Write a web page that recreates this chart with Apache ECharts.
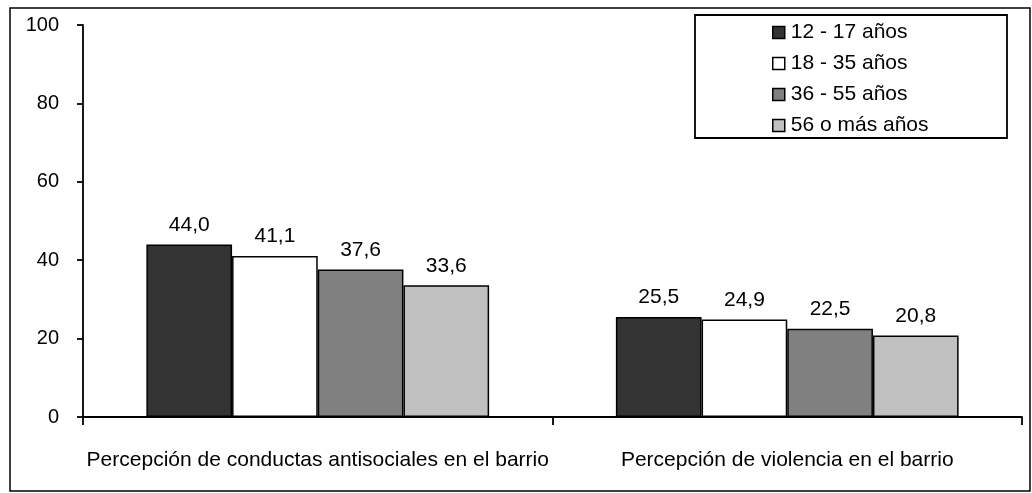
<!DOCTYPE html>
<html><head><meta charset="utf-8">
<script src="https://cdn.jsdelivr.net/npm/echarts@6/dist/echarts.min.js"></script>
<style>html,body{margin:0;padding:0;background:#fff}#c{width:1032px;height:493px}</style>
</head><body><div id="c"></div>
<script>
const categories = ['Percepción de conductas antisociales en el barrio', 'Percepción de violencia en el barrio'];
const seriesNames = ['12 - 17 años', '18 - 35 años', '36 - 55 años', '56 o más años'];
const s1217 = [44.0, 25.5];
const s1835 = [41.1, 24.9];
const s3655 = [37.6, 22.5];
const s56 = [33.6, 20.8];
const yTicks = [0, 20, 40, 60, 80, 100];
const colors = ['#333333', '#ffffff', '#808080', '#c0c0c0'];
const values = [s1217, s1835, s3655, s56];
const font = 'Liberation Sans, Arial, sans-serif';

const chart = echarts.init(document.getElementById('c'));
chart.setOption({
  animation: false,
  grid: {left: 83, right: 10, top: 25, bottom: 76},
  legend: {
    orient: 'vertical', left: 772, top: 22,
    padding: 0, itemGap: 10,
    itemWidth: 12, itemHeight: 12,
    textStyle: {fontFamily: font, fontSize: 21, lineHeight: 21, color: '#000', padding: [0, 0, 0, 1]},
    itemStyle: {borderColor: '#000', borderWidth: 1.5},
    data: seriesNames.map(n => ({name: n, icon: 'rect'}))
  },
  xAxis: {
    type: 'category', data: categories,
    axisLine: {lineStyle: {color: '#000', width: 1.8}},
    axisTick: {show: true, length: 8, lineStyle: {color: '#000', width: 1.8}},
    axisLabel: {interval: 0, fontFamily: font, fontSize: 21, color: '#000', margin: 33}
  },
  yAxis: {
    type: 'value', min: 0, max: 100, interval: 20,
    axisLine: {show: true, lineStyle: {color: '#000', width: 1.8}},
    axisTick: {show: true, inside: false, length: 6, lineStyle: {color: '#000', width: 1.8}},
    splitLine: {show: false},
    axisLabel: {fontFamily: font, fontSize: 20, color: '#000', margin: 24,
      formatter: v => yTicks.includes(v) ? String(v) : ''}
  },
  series: values.map((v, i) => ({
    name: seriesNames[i], type: 'bar', data: v,
    barGap: '0%', barCategoryGap: '27%',
    itemStyle: {color: colors[i], borderColor: '#000', borderWidth: 1.5},
    label: {show: true, position: 'top', distance: 9, fontFamily: font, fontSize: 21, color: '#000',
      formatter: p => p.value.toFixed(1).replace('.', ',')}
  })),
  graphic: [
    {type: 'rect', shape: {x: 10, y: 8, width: 1020, height: 483}, style: {fill: 'none', stroke: '#000', lineWidth: 1.5}, silent: true},
    {type: 'rect', shape: {x: 695, y: 15, width: 312, height: 123}, style: {fill: 'none', stroke: '#000', lineWidth: 1.8}, silent: true}
  ]
});
</script></body></html>
